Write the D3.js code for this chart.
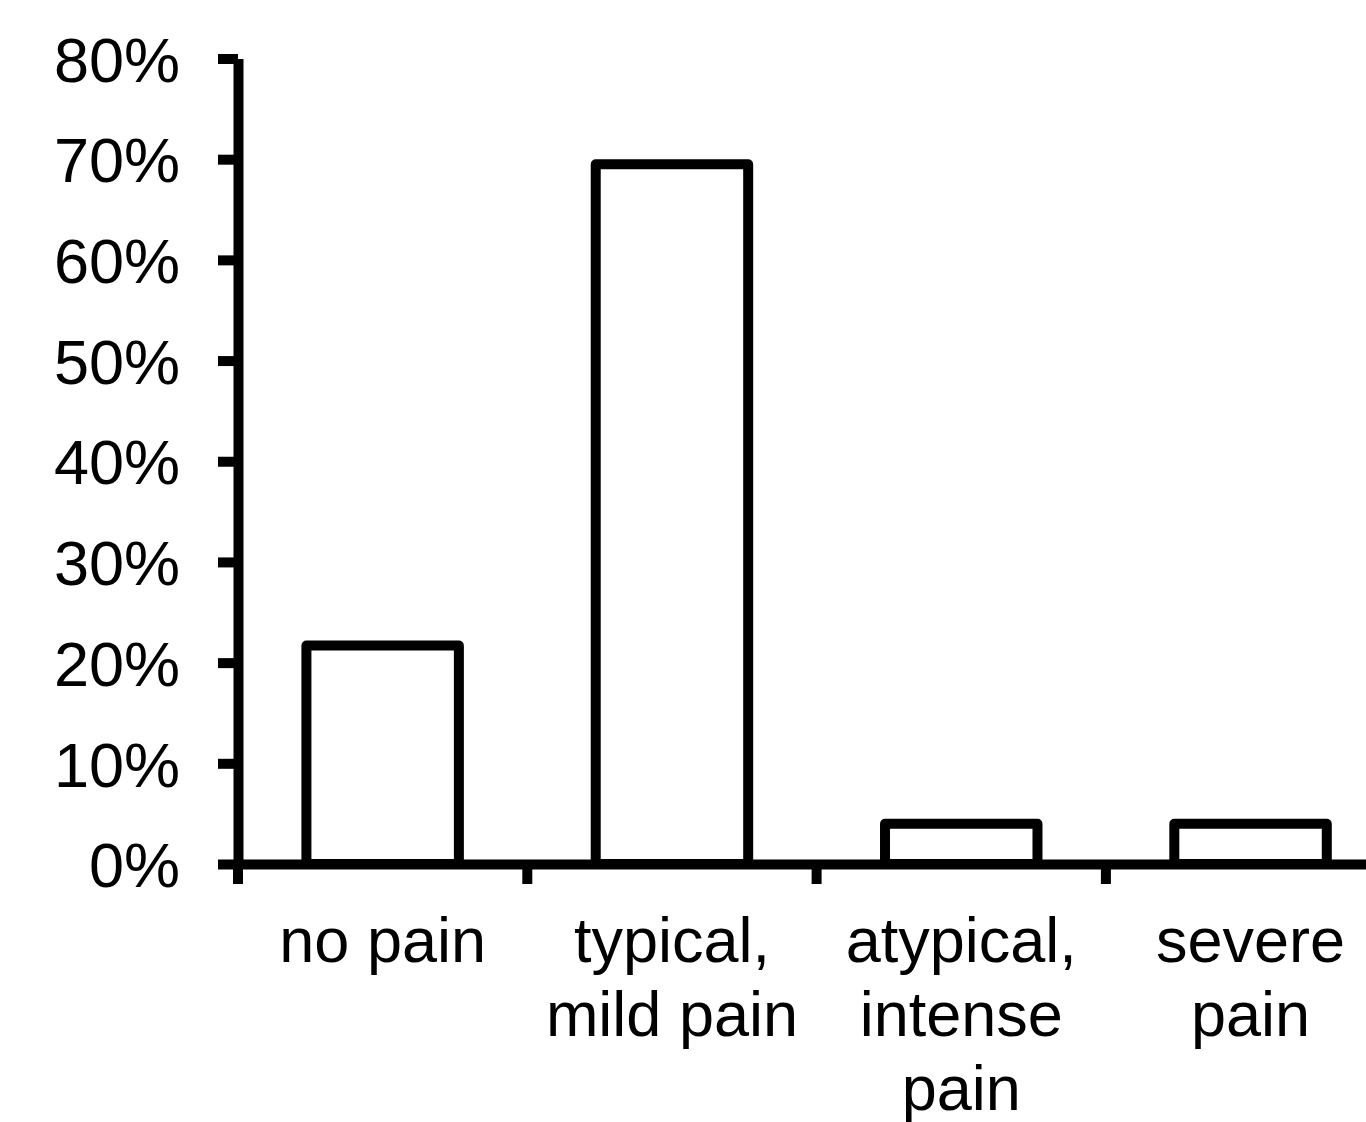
<!DOCTYPE html>
<head>
  <meta charset="utf-8">
  <script src="https://unpkg.com/d3@7/dist/d3.min.js"></script>
  <style>
    body {
      margin:0;
      background:#fff;
    }
    text {
      font-family: "Liberation Sans", Arial, sans-serif;
      font-size: 63px;
      fill: #000;
    }
  </style>
</head>

<body>
  <svg width="1366" height="1122"></svg>
  <script>
    // data
    var categories = ["no pain", "typical, mild pain", "atypical, intense pain", "severe pain"];
    var labelLines = [["no pain"], ["typical,", "mild pain"], ["atypical,", "intense", "pain"], ["severe", "pain"]];
    var values = [0.217, 0.695, 0.04, 0.04];
    var yTicks = [0, 0.1, 0.2, 0.3, 0.4, 0.5, 0.6, 0.7, 0.8];

    var svg = d3.select("svg");
    var sw = 10;

    var x = d3.scaleBand()
      .domain(categories)
      .range([238, 238 + 4 * 289.3])
      .paddingInner(0.473)
      .paddingOuter(0.2365);

    var y = d3.scaleLinear()
      .domain([0, 0.8])
      .range([864, 58.5]);

    // bars
    svg.selectAll("rect.bar")
      .data(values)
      .enter()
      .append("rect")
        .attr("class", "bar")
        .attr("x", function (d, i) { return x(categories[i]); })
        .attr("y", function (d) { return y(d); })
        .attr("width", x.bandwidth())
        .attr("height", function (d) { return y(0) - y(d); })
        .attr("fill", "#fff")
        .attr("stroke", "#000")
        .attr("stroke-width", sw)
        .attr("stroke-linejoin", "round");

    // y axis
    var yAxis = svg.append("g")
      .attr("transform", "translate(238,0)")
      .call(d3.axisLeft(y)
        .tickValues(yTicks)
        .tickFormat(d3.format(".0%"))
        .tickSize(20)
        .tickSizeOuter(0)
        .tickPadding(38));
    yAxis.selectAll("line, path").attr("stroke", "#000").attr("stroke-width", sw);
    yAxis.selectAll("text")
      .attr("dy", "0.36em")
      .style("font-size", "63px")
      .style("font-family", "'Liberation Sans', Arial, sans-serif");

    // x axis: line + ticks at band boundaries
    var gap = (x.step() - x.bandwidth()) / 2;
    var xAxis = svg.append("g")
      .attr("transform", "translate(0," + y(0) + ")")
      .call(d3.axisBottom(x).tickSize(0).tickSizeOuter(0).tickFormat(""));
    xAxis.select(".domain").attr("stroke", "#000").attr("stroke-width", sw);

    xAxis.selectAll("line.bound")
      .data(categories)
      .enter()
      .append("line")
        .attr("class", "bound")
        .attr("x1", function (d) { return x(d) - gap; })
        .attr("x2", function (d) { return x(d) - gap; })
        .attr("y1", 0)
        .attr("y2", 20)
        .attr("stroke", "#000")
        .attr("stroke-width", sw);

    // multi-line category labels
    var lab = svg.selectAll("text.cat")
      .data(categories)
      .enter()
      .append("text")
        .attr("class", "cat")
        .attr("text-anchor", "middle")
        .attr("y", 962);
    lab.each(function (d, i) {
      var t = d3.select(this);
      labelLines[i].forEach(function (line, j) {
        t.append("tspan")
          .attr("x", x(d) + x.bandwidth() / 2)
          .attr("dy", j === 0 ? 0 : 74)
          .text(line);
      });
    });
  </script>
</body>
